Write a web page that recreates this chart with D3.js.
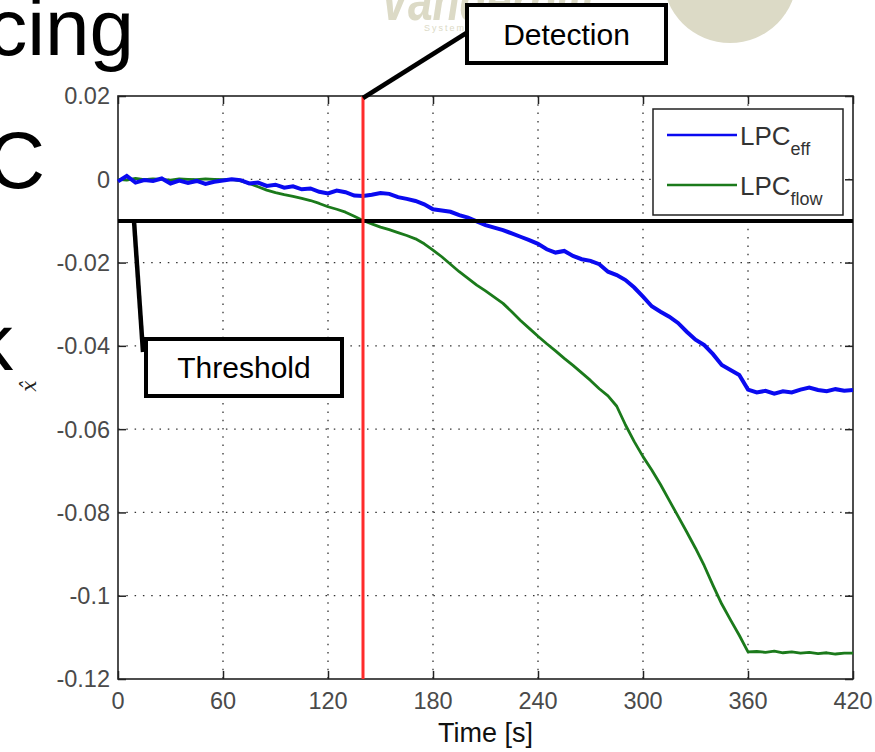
<!DOCTYPE html>
<html>
<head>
<meta charset="utf-8">
<script src="https://cdn.jsdelivr.net/npm/d3@7"></script>
<style>
  html, body { margin: 0; padding: 0; background: #fff; }
  svg { display: block; font-family: Arial, "Liberation Sans", sans-serif; }
  .tick-label { fill: #4a4a4a; font-size: 23.5px; }
</style>
</head>
<body>
<div id="chart"></div>
<script>
// sample times (s)
var times = [0, 5, 10, 15, 20, 25, 30, 35, 40, 45, 50, 55, 60, 65, 70, 75, 80, 85, 90, 95,
  100, 105, 110, 115, 120, 125, 130, 135, 140, 145, 150, 155, 160, 165, 170, 175, 180, 185, 190, 195,
  200, 205, 210, 215, 220, 225, 230, 235, 240, 245, 250, 255, 260, 265, 270, 275, 280, 285, 290, 295,
  300, 305, 310, 315, 320, 325, 330, 335, 340, 345, 350, 355, 360, 365, 370, 375, 380, 385, 390, 395,
  400, 405, 410, 415, 420];

// LPC efficiency estimate
var lpcEff = [-0.0005, 0.0008, -0.0008, -0.0002, -0.0004, 0.0002, -0.0010, -0.0003, -0.0009, -0.0004,
  -0.0011, -0.0006, -0.0003, 0.0000, -0.0002, -0.0010, -0.0008, -0.0016, -0.0013, -0.0020,
  -0.0017, -0.0024, -0.0022, -0.0030, -0.0034, -0.0027, -0.0031, -0.0039, -0.0040, -0.0037,
  -0.0033, -0.0035, -0.0043, -0.0047, -0.0052, -0.0060, -0.0072, -0.0075, -0.0078, -0.0086,
  -0.0092, -0.0101, -0.0110, -0.0116, -0.0122, -0.0130, -0.0138, -0.0146, -0.0155, -0.0168,
  -0.0176, -0.0172, -0.0184, -0.0192, -0.0196, -0.0204, -0.0222, -0.0230, -0.0242, -0.0260,
  -0.0282, -0.0305, -0.0318, -0.0330, -0.0345, -0.0366, -0.0385, -0.0398, -0.0420, -0.0446,
  -0.0458, -0.0470, -0.0505, -0.0512, -0.0508, -0.0515, -0.0509, -0.0512, -0.0505, -0.0500,
  -0.0506, -0.0509, -0.0504, -0.0508, -0.0506];

// LPC flow estimate
var lpcFlow = [0.0000, -0.0002, 0.0002, -0.0001, 0.0001, 0.0000, -0.0002, 0.0001, 0.0000, -0.0001,
  0.0001, 0.0000, -0.0001, 0.0000, -0.0004, -0.0010, -0.0018, -0.0026, -0.0032, -0.0037,
  -0.0041, -0.0046, -0.0051, -0.0058, -0.0066, -0.0072, -0.0079, -0.0089, -0.0099, -0.0107,
  -0.0115, -0.0121, -0.0128, -0.0135, -0.0143, -0.0155, -0.0170, -0.0186, -0.0204, -0.0222,
  -0.0238, -0.0254, -0.0268, -0.0283, -0.0298, -0.0318, -0.0339, -0.0358, -0.0377, -0.0395,
  -0.0412, -0.0430, -0.0447, -0.0465, -0.0483, -0.0503, -0.0520, -0.0545, -0.0590, -0.0630,
  -0.0666, -0.0698, -0.0733, -0.0771, -0.0809, -0.0847, -0.0886, -0.0928, -0.0975, -0.1020,
  -0.1058, -0.1095, -0.1135, -0.1134, -0.1136, -0.1133, -0.1137, -0.1135, -0.1138, -0.1136,
  -0.1139, -0.1137, -0.1140, -0.1138, -0.1138];

var xTicks = [0, 60, 120, 180, 240, 300, 360, 420];
var yTicks = [0.02, 0, -0.02, -0.04, -0.06, -0.08, -0.1, -0.12];
var yTickLabels = ["0.02", "0", "-0.02", "-0.04", "-0.06", "-0.08", "-0.1", "-0.12"];
var threshold = -0.01;
var detectionTime = 140;
var seriesNames = ["eff", "flow"];

var svgWidth = 875, svgHeight = 752;
var margin = { top: 96, right: 22, bottom: 73, left: 118 };
var width = svgWidth - margin.left - margin.right;
var height = svgHeight - margin.top - margin.bottom;

var svg = d3.select("#chart").append("svg")
  .attr("width", svgWidth)
  .attr("height", svgHeight);

// slide leftovers behind the figure
var logo = svg.append("g").attr("fill", "#dcdac6");
logo.append("circle").attr("cx", 730).attr("cy", -24).attr("r", 67);
logo.append("text")
  .attr("x", 380).attr("y", 20)
  .attr("font-size", 58).attr("font-weight", "bold").attr("font-style", "italic")
  .attr("textLength", 215).attr("lengthAdjust", "spacingAndGlyphs")
  .text("Vanderbilt");
logo.append("text")
  .attr("x", 424).attr("y", 31)
  .attr("font-size", 9).attr("letter-spacing", 2)
  .text("Systems");

var slide = svg.append("g").attr("fill", "#000").attr("text-anchor", "end").attr("font-size", 80);
slide.append("text").attr("x", 134).attr("y", 55).text("Reducing");
slide.append("text").attr("x", 45).attr("y", 188).text("LPC");
slide.append("text").attr("x", 13).attr("y", 370).text("k");

var chartGroup = svg.append("g")
  .attr("transform", `translate(${margin.left}, ${margin.top})`);

var x = d3.scaleLinear().domain([0, 420]).range([0, width]);
var y = d3.scaleLinear().domain([-0.12, 0.02]).range([height, 0]);

chartGroup.append("rect")
  .attr("width", width).attr("height", height)
  .attr("fill", "#fff");

// dotted grid
chartGroup.append("g")
  .selectAll("line")
  .data(xTicks.slice(1, -1))
  .enter()
  .append("line")
  .attr("x1", d => x(d)).attr("x2", d => x(d))
  .attr("y1", 0).attr("y2", height)
  .attr("stroke", "#333").attr("stroke-width", 1.3)
  .attr("stroke-dasharray", "1.5,6.8");

chartGroup.append("g")
  .selectAll("line")
  .data(yTicks.slice(1, -1))
  .enter()
  .append("line")
  .attr("x1", 0).attr("x2", width)
  .attr("y1", d => y(d)).attr("y2", d => y(d))
  .attr("stroke", "#333").attr("stroke-width", 1.3)
  .attr("stroke-dasharray", "1.5,6.8");

// inward ticks on all four sides
var xAxisBottom = d3.axisBottom(x).tickValues(xTicks).tickSize(-8).tickFormat("");
var xAxisTop = d3.axisTop(x).tickValues(xTicks).tickSize(-8).tickFormat("");
var yAxisLeft = d3.axisLeft(y).tickValues(yTicks).tickSize(-8).tickFormat("");
var yAxisRight = d3.axisRight(y).tickValues(yTicks).tickSize(-8).tickFormat("");

[[xAxisBottom, `translate(0, ${height})`], [xAxisTop, "translate(0,0)"],
 [yAxisLeft, "translate(0,0)"], [yAxisRight, `translate(${width},0)`]].forEach(function (a) {
  var g = chartGroup.append("g").attr("transform", a[1]).call(a[0]);
  g.select(".domain").remove();
  g.selectAll(".tick line").attr("stroke", "#222").attr("stroke-width", 1.5);
});

chartGroup.append("rect")
  .attr("width", width).attr("height", height)
  .attr("fill", "none").attr("stroke", "#222").attr("stroke-width", 1.6);

// tick labels
chartGroup.append("g")
  .selectAll("text")
  .data(xTicks)
  .enter()
  .append("text")
  .attr("class", "tick-label")
  .attr("x", d => x(d))
  .attr("y", height + 30)
  .attr("text-anchor", "middle")
  .text(d => d);

chartGroup.append("g")
  .selectAll("text")
  .data(yTicks)
  .enter()
  .append("text")
  .attr("class", "tick-label")
  .attr("x", -8)
  .attr("y", d => y(d))
  .attr("dy", "0.36em")
  .attr("text-anchor", "end")
  .text((d, i) => yTickLabels[i]);

// series
var lineEff = d3.line().x((d, i) => x(times[i])).y(d => y(d));
chartGroup.append("path")
  .datum(lpcFlow)
  .attr("d", lineEff)
  .attr("fill", "none").attr("stroke", "#1b7a1b").attr("stroke-width", 2.8)
  .attr("stroke-linejoin", "round");

chartGroup.append("path")
  .datum(lpcEff)
  .attr("d", lineEff)
  .attr("fill", "none").attr("stroke", "#0a0af0").attr("stroke-width", 4)
  .attr("stroke-linejoin", "miter");

// threshold and detection markers
chartGroup.append("line")
  .attr("x1", 0).attr("x2", width)
  .attr("y1", y(threshold)).attr("y2", y(threshold))
  .attr("stroke", "#000").attr("stroke-width", 4);

chartGroup.append("line")
  .attr("x1", x(detectionTime)).attr("x2", x(detectionTime))
  .attr("y1", 0).attr("y2", height)
  .attr("stroke", "#ff2b2b").attr("stroke-width", 3);

// legend
var legend = chartGroup.append("g").attr("transform", `translate(${x(0) + 535}, 13)`);
legend.append("rect")
  .attr("width", 190).attr("height", 106)
  .attr("fill", "#fff").attr("stroke", "#222").attr("stroke-width", 1.5);
var legendColors = ["#0a0af0", "#1b7a1b"];
seriesNames.forEach(function (name, i) {
  var row = legend.append("g").attr("transform", `translate(0, ${26 + i * 50})`);
  row.append("line")
    .attr("x1", 14).attr("x2", 84)
    .attr("stroke", legendColors[i]).attr("stroke-width", 2.5);
  var t = row.append("text")
    .attr("x", 87).attr("y", 10)
    .attr("font-size", 26).attr("fill", "#333");
  t.append("tspan").text("LPC");
  t.append("tspan").attr("font-size", 18).attr("dy", 10).text(name);
});

// axis titles
svg.append("text")
  .attr("x", margin.left + width / 2)
  .attr("y", 742)
  .attr("text-anchor", "middle")
  .attr("font-size", 27)
  .attr("fill", "#111")
  .text("Time [s]");

svg.append("text")
  .attr("transform", "translate(36, 386) rotate(-90)")
  .attr("text-anchor", "middle")
  .attr("font-size", 20)
  .attr("font-style", "italic")
  .attr("font-family", "DejaVu Serif, serif")
  .attr("fill", "#222")
  .text("x\u0302");

// callouts
var calloutLayer = svg.append("g");
function callout(box, text, from, to) {
  calloutLayer.append("line")
    .attr("x1", from[0]).attr("y1", from[1])
    .attr("x2", to[0]).attr("y2", to[1])
    .attr("stroke", "#000").attr("stroke-width", 4.5);
  calloutLayer.append("rect")
    .attr("x", box[0]).attr("y", box[1]).attr("width", box[2]).attr("height", box[3])
    .attr("fill", "#fff").attr("stroke", "#000").attr("stroke-width", 4);
  calloutLayer.append("text")
    .attr("x", box[0] + box[2] / 2)
    .attr("y", box[1] + box[3] / 2)
    .attr("dy", "0.36em")
    .attr("text-anchor", "middle")
    .attr("font-size", 30)
    .attr("fill", "#000")
    .text(text);
}
callout([467, 5, 199, 58], "Detection",
  [margin.left + x(detectionTime), margin.top + 2], [468, 32]);
callout([146, 339, 196, 57], "Threshold",
  [134, margin.top + y(threshold)], [143, 352]);
</script>
</body>
</html>
